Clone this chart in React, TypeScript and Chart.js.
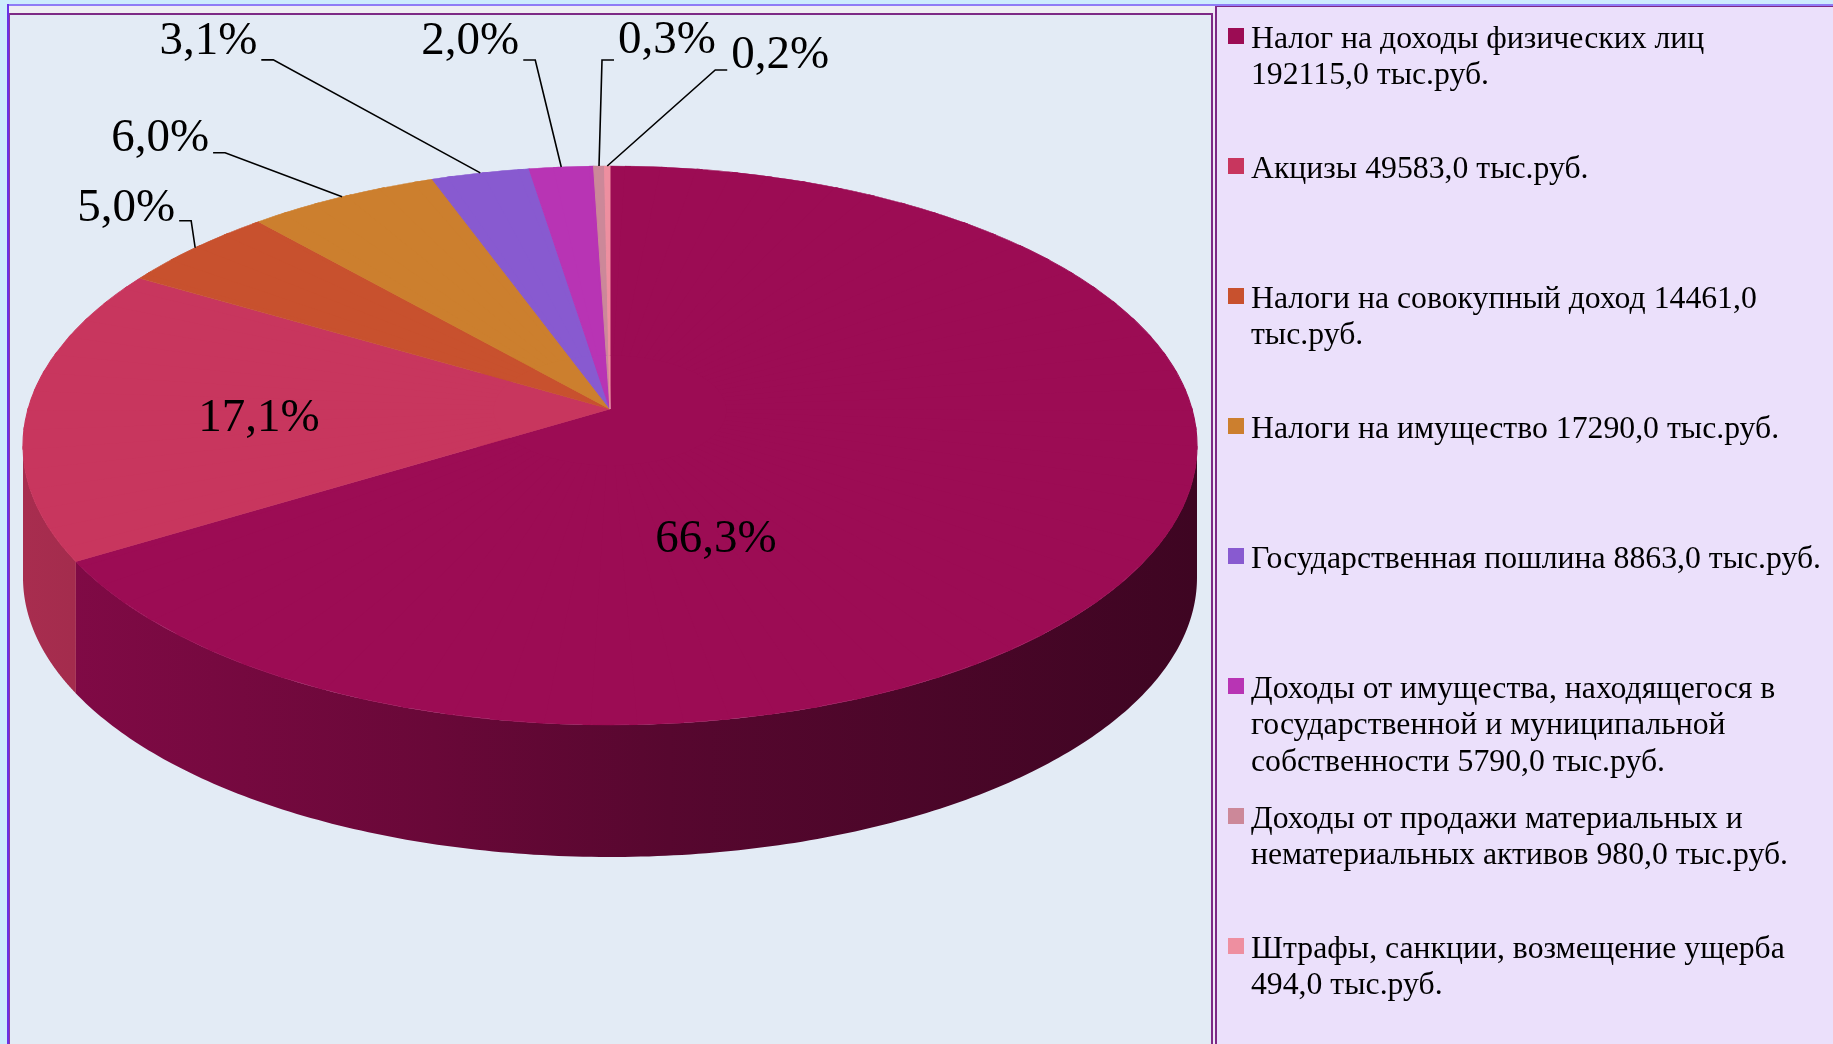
import React, { useEffect, useRef } from 'react';
import { Chart, registerables } from 'chart.js';

Chart.register(...registerables);

// ---------- data ----------
const CATEGORIES = [
  'Налог на доходы физических лиц',
  'Акцизы',
  'Налоги на совокупный доход',
  'Налоги на имущество',
  'Государственная пошлина',
  'Доходы от имущества, находящегося в государственной и муниципальной собственности',
  'Доходы от продажи материальных и нематериальных активов',
  'Штрафы, санкции, возмещение ущерба',
];
const VALUES = [192115.0, 49583.0, 14461.0, 17290.0, 8863.0, 5790.0, 980.0, 494.0];
const UNIT = 'тыс.руб.';
const COLORS = ['#9c0c54', '#c8365e', '#c8512e', '#cc7f2e', '#885ad0', '#b834b4', '#cc8899', '#ee8fa0'];
// word index where a new legend line starts
const LEGEND_BREAKS = [[5], [], [5], [], [], [5, 8], [5], [4]];

// ---------- layout / style ----------
const W = 1833;
const H = 1044;
// projected ellipse of the pie top and the projected pie centre (perspective)
const EX = 610;
const EY = 445.5;
const ERX = 587;
const ERY = 279.5;
const APEX_Y = 409;
const TILT = (APEX_Y - EY) / ERY;
const DEPTH = 132;
const SECTORS = 90;
const DELTA = 0.006;
const INNER = 0.2;
const BASE_R = 0.26;
const WALL_SHADE: [number, number][] = [[0, 0.84], [0.35, 0.67], [0.55, 0.56], [1, 0.4]];
const LABEL_FONT = '47px "Liberation Serif", "Times New Roman", serif';
const LEGEND_FONT_SIZE = 32;
const LEGEND_FONT = `${LEGEND_FONT_SIZE}px "Liberation Serif", "Times New Roman", serif`;
const LEGEND_BOX_X = 1228;
const LEGEND_TEXT_X = 1251;
const LEGEND_TOP = 28;
const LEGEND_SLOT = 130;
const LEGEND_BOX = 16;
const LEGEND_LINE = 36.6;
const LEGEND_MAX_TEXT_W = 570;

type Placement = { inside: boolean; dx: number; dy: number; side?: number; tdy?: number };
const LABEL_PLACEMENT: Placement[] = [
  { inside: true, dx: -156, dy: 61 },
  { inside: true, dx: -60, dy: 9 },
  { inside: false, dx: -4, dy: -27, side: -1, tdy: 0 },
  { inside: false, dx: -117, dy: -44, side: -1, tdy: -2 },
  { inside: false, dx: -207, dy: -113, side: -1, tdy: -6 },
  { inside: false, dx: -26, dy: -107, side: -1, tdy: -6 },
  { inside: false, dx: 3, dy: -106, side: 1, tdy: -7 },
  { inside: false, dx: 108, dy: -96, side: 1, tdy: -2 },
];

function fmtNum(v: number) {
  return v.toFixed(1).replace('.', ',');
}

function shade(hex: string, f: number) {
  const n = parseInt(hex.slice(1), 16);
  const r = Math.round(((n >> 16) & 255) * f);
  const g = Math.round(((n >> 8) & 255) * f);
  const b = Math.round((n & 255) * f);
  return `rgb(${r},${g},${b})`;
}

// perspective map of the unit disc onto the projected ellipse
function persp(u: number, v: number) {
  const den = 1 + TILT * v;
  const X = (Math.sqrt(1 - TILT * TILT) * u) / den;
  const Y = (v + TILT) / den;
  return { x: EX + ERX * X, y: EY + ERY * Y };
}
function proj(theta: number, f: number) {
  return persp(f * Math.cos(theta), f * Math.sin(theta));
}

// base layer around the centre: local linear approximation of the perspective map
function setupBase(ctx: CanvasRenderingContext2D, arc: any) {
  ctx.beginPath();
  const N = 120;
  for (let k = 0; k <= N; k++) {
    const p = proj((2 * Math.PI * k) / N, BASE_R);
    if (k === 0) ctx.moveTo(p.x, p.y);
    else ctx.lineTo(p.x, p.y);
  }
  ctx.closePath();
  ctx.clip();
  const P0 = persp(0, 0);
  const R = arc.outerRadius;
  const sx = (ERX * Math.sqrt(1 - TILT * TILT)) / R;
  const sy = (ERY * (1 - TILT * TILT)) / R;
  ctx.translate(P0.x, P0.y);
  ctx.scale(sx, sy);
  ctx.translate(-arc.x, -arc.y);
}

// clip to one angular sector and set an affine map that matches the perspective there
function setupSector(ctx: CanvasRenderingContext2D, arc: any, k: number) {
  const t1 = (2 * Math.PI * k) / SECTORS;
  const t2 = (2 * Math.PI * (k + 1)) / SECTORS;
  const P0 = persp(0, 0);
  const P1 = proj(t1, 1);
  const P2 = proj(t2, 1);
  const i1 = proj(t1 - DELTA, INNER);
  const i2 = proj(t2 + DELTA, INNER);
  const q1 = proj(t1 - DELTA, 1);
  const q2 = proj(t2 + DELTA, 1);
  ctx.beginPath();
  ctx.moveTo(i1.x, i1.y);
  ctx.lineTo(P0.x + 3 * (q1.x - P0.x), P0.y + 3 * (q1.y - P0.y));
  ctx.lineTo(P0.x + 3 * (q2.x - P0.x), P0.y + 3 * (q2.y - P0.y));
  ctx.lineTo(i2.x, i2.y);
  ctx.closePath();
  ctx.clip();
  const c1 = Math.cos(t1), s1 = Math.sin(t1), c2 = Math.cos(t2), s2 = Math.sin(t2);
  const det = c1 * s2 - c2 * s1;
  const d1x = P1.x - P0.x, d1y = P1.y - P0.y, d2x = P2.x - P0.x, d2y = P2.y - P0.y;
  const m11 = (d1x * s2 - d2x * s1) / det;
  const m12 = (-d1x * c2 + d2x * c1) / det;
  const m21 = (d1y * s2 - d2y * s1) / det;
  const m22 = (-d1y * c2 + d2y * c1) / det;
  const R = arc.outerRadius, cx = arc.x, cy = arc.y;
  ctx.transform(m11 / R, m21 / R, m12 / R, m22 / R, P0.x - (m11 * cx + m12 * cy) / R, P0.y - (m21 * cx + m22 * cy) / R);
}

function legendLines(i: number, value: number) {
  const words = `${CATEGORIES[i]} ${fmtNum(value)} ${UNIT}`.split(' ');
  const breaks = LEGEND_BREAKS[i];
  const lines: string[] = [];
  let cur: string[] = [];
  words.forEach((w, k) => {
    if (breaks.includes(k) && cur.length) {
      lines.push(cur.join(' '));
      cur = [];
    }
    cur.push(w);
  });
  if (cur.length) lines.push(cur.join(' '));
  return lines;
}

const pie3d = {
  id: 'pie3d',
  beforeDatasetsDraw(chart: any) {
    const ctx: CanvasRenderingContext2D = chart.ctx;
    const meta = chart.getDatasetMeta(0);
    const colors = chart.data.datasets[0].backgroundColor as string[];
    const t0 = Math.asin(-TILT);
    // side walls (visible front part of the cylinder)
    meta.data.forEach((arc: any, i: number) => {
      const a = Math.max(arc.startAngle, t0);
      const b = Math.min(arc.endAngle, Math.PI - t0);
      if (b <= a) return;
      const g = ctx.createLinearGradient(EX - ERX, 0, EX + ERX, 0);
      WALL_SHADE.forEach(([p, f]) => g.addColorStop(p, shade(colors[i], f)));
      const N = 200;
      ctx.beginPath();
      for (let k = 0; k <= N; k++) {
        const p = proj(a + ((b - a) * k) / N, 1);
        if (k === 0) ctx.moveTo(p.x, p.y);
        else ctx.lineTo(p.x, p.y);
      }
      for (let k = N; k >= 0; k--) {
        const p = proj(a + ((b - a) * k) / N, 1);
        ctx.lineTo(p.x, p.y + DEPTH);
      }
      ctx.closePath();
      ctx.fillStyle = g;
      ctx.fill();
    });
    // base layer of the top face near the centre (drawn by chart.js itself)
    ctx.save();
    setupBase(ctx, meta.data[0]);
  },
  afterDatasetsDraw(chart: any) {
    const ctx: CanvasRenderingContext2D = chart.ctx;
    ctx.restore();
    const meta = chart.getDatasetMeta(0);
    for (let k = 0; k < SECTORS; k++) {
      ctx.save();
      setupSector(ctx, meta.data[0], k);
      meta.controller.draw();
      ctx.restore();
    }

    // percentage labels
    const data = chart.data.datasets[0].data as number[];
    const total = data.reduce((s, v) => s + v, 0);
    ctx.save();
    ctx.font = LABEL_FONT;
    ctx.fillStyle = '#000';
    ctx.strokeStyle = '#000';
    ctx.lineWidth = 1.6;
    meta.data.forEach((arc: any, i: number) => {
      const mid = (arc.startAngle + arc.endAngle) / 2;
      const txt = fmtNum((data[i] / total) * 100) + '%';
      const pl = LABEL_PLACEMENT[i];
      if (pl.inside) {
        const p = proj(mid, 0.5);
        ctx.textAlign = 'center';
        ctx.textBaseline = 'middle';
        ctx.fillText(txt, p.x + pl.dx, p.y + pl.dy);
      } else {
        const e = proj(mid, 1);
        const ex = e.x + pl.dx;
        const ey = e.y + pl.dy;
        const side = pl.side || 1;
        const hx = ex + side * 12;
        ctx.beginPath();
        ctx.moveTo(e.x, e.y);
        ctx.lineTo(ex, ey);
        ctx.lineTo(hx, ey);
        ctx.stroke();
        ctx.textAlign = side < 0 ? 'right' : 'left';
        ctx.textBaseline = 'alphabetic';
        ctx.fillText(txt, hx + side * 4, ey + (pl.tdy || 0));
      }
    });
    ctx.restore();
  },
  afterDraw(chart: any) {
    const ctx: CanvasRenderingContext2D = chart.ctx;
    const data = chart.data.datasets[0].data as number[];
    const colors = chart.data.datasets[0].backgroundColor as string[];
    ctx.save();
    ctx.font = LEGEND_FONT;
    ctx.fillStyle = '#000';
    ctx.textAlign = 'left';
    ctx.textBaseline = 'alphabetic';
    const all = data.map((v, i) => legendLines(i, v));
    let maxW = 0;
    all.forEach((ls) => ls.forEach((l) => (maxW = Math.max(maxW, ctx.measureText(l).width))));
    const sx = LEGEND_MAX_TEXT_W / maxW;
    all.forEach((ls, i) => {
      const top = LEGEND_TOP + i * LEGEND_SLOT;
      ctx.fillStyle = colors[i];
      ctx.fillRect(LEGEND_BOX_X, top, LEGEND_BOX, LEGEND_BOX);
      ctx.fillStyle = '#000';
      ls.forEach((l, k) => {
        ctx.save();
        ctx.translate(LEGEND_TEXT_X, top + 19.7 + k * LEGEND_LINE);
        ctx.scale(sx, 1);
        ctx.fillText(l, 0, 0);
        ctx.restore();
      });
    });
    ctx.restore();
  },
};

export default function App() {
  const ref = useRef<HTMLCanvasElement | null>(null);
  useEffect(() => {
    const prevMargin = document.body.style.margin;
    document.body.style.margin = '0';
    const canvas = ref.current;
    if (!canvas) return;
    const chart = new Chart(canvas, {
      type: 'pie',
      data: {
        labels: CATEGORIES,
        datasets: [
          {
            data: VALUES,
            backgroundColor: COLORS,
            borderColor: COLORS,
            borderWidth: 1,
            clip: false as any,
          } as any,
        ],
      },
      options: {
        responsive: false,
        animation: false,
        events: [],
        layout: { padding: { left: 10, top: 15, right: W - 1211, bottom: 0 } },
        plugins: {
          legend: { display: false },
          tooltip: { enabled: false },
        },
      },
      plugins: [pie3d as any],
    });
    return () => {
      chart.destroy();
      document.body.style.margin = prevMargin;
    };
  }, []);

  return (
    <div
      style={{
        position: 'fixed',
        left: 0,
        top: 0,
        width: W,
        height: H,
        background: '#cdecfd',
        overflow: 'hidden',
      }}
    >
      <div style={{ position: 'absolute', left: 7, top: 4, width: W - 7, height: 2, background: '#8f7cf6' }} />
      <div style={{ position: 'absolute', left: 7, top: 4, width: 2, height: H - 4, background: '#6a33e6' }} />
      <div style={{ position: 'absolute', left: 9, top: 6, width: 1204, height: H - 6, background: '#e3ebf5' }}>
        <div style={{ position: 'absolute', left: 0, top: 0, width: '100%', height: 7, background: '#efeef3' }} />
        <div style={{ position: 'absolute', left: 0, top: 7, width: '100%', height: 2, background: '#7d2a86' }} />
        <div style={{ position: 'absolute', left: 0, top: 7, width: 1, bottom: 0, background: '#8c3aa0' }} />
        <div style={{ position: 'absolute', right: 0, top: 7, width: 2, bottom: 0, background: '#7d2a86' }} />
      </div>
      <div style={{ position: 'absolute', left: 1213, top: 6, width: 2, bottom: 0, background: '#efe9f7' }} />
      <div
        style={{
          position: 'absolute',
          left: 1215,
          top: 6,
          right: 0,
          bottom: 0,
          background: '#ebe0fb',
          borderLeft: '2px solid #7d2a86',
          borderTop: '1px solid #7d2a86',
          boxSizing: 'border-box',
        }}
      />
      <canvas ref={ref} width={W} height={H} style={{ position: 'absolute', left: 0, top: 0 }} />
    </div>
  );
}
